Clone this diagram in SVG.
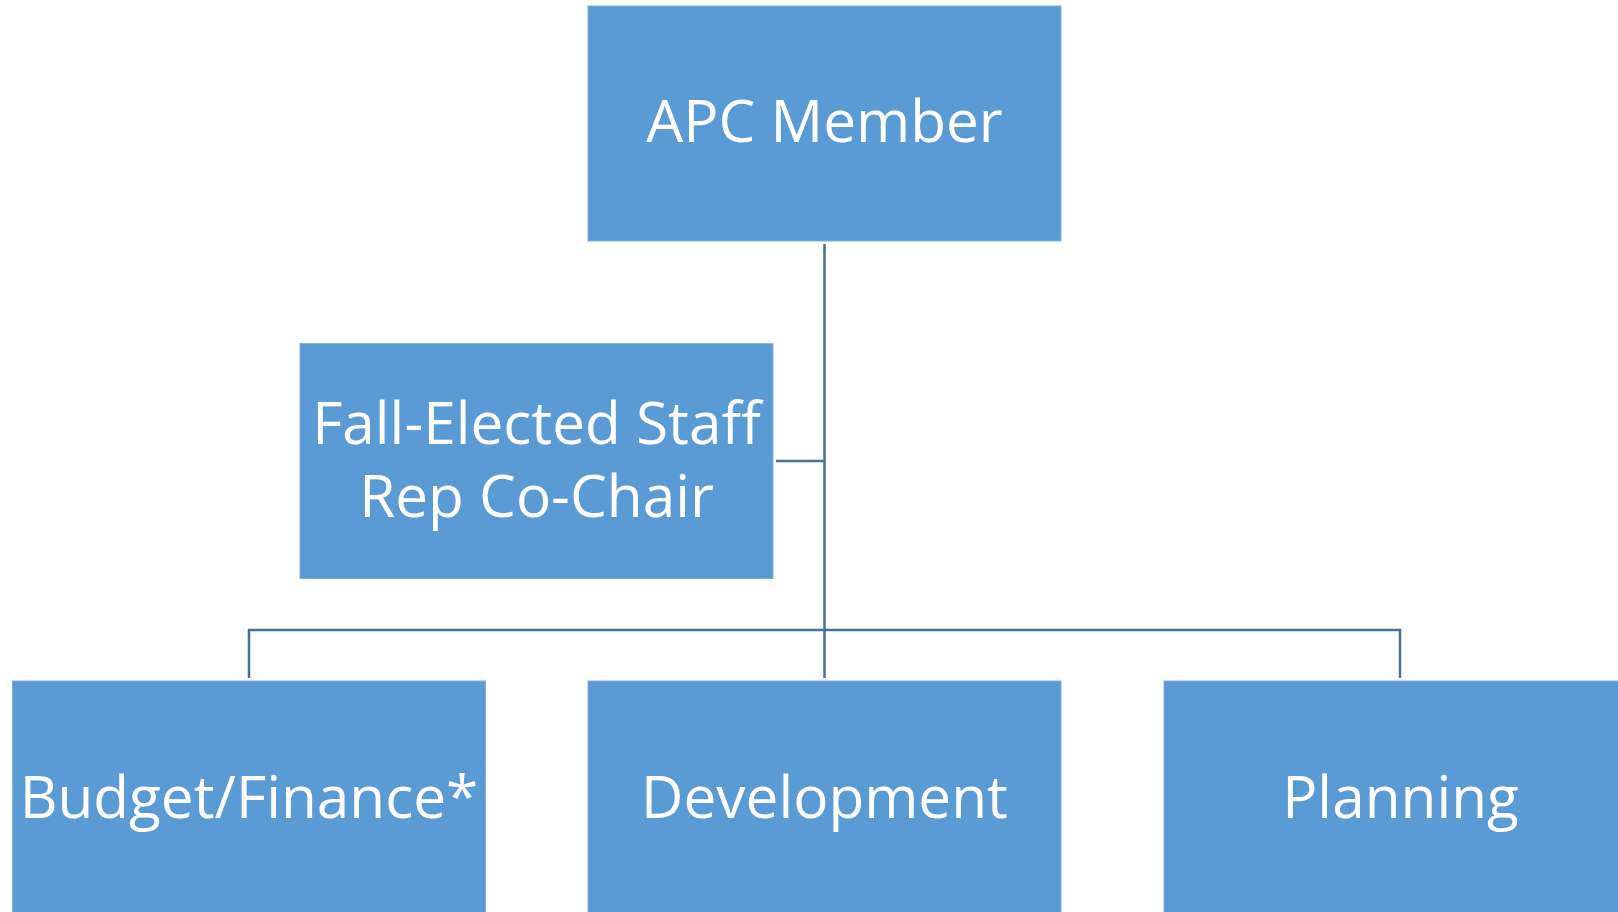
<svg xmlns="http://www.w3.org/2000/svg" width="1618" height="912" viewBox="0 0 1618 912">
<style>
.box{fill:#5B9BD5;stroke:#7EB0E0;stroke-width:1}
.lbl{font-family:"Open Sans","Liberation Sans",sans-serif;font-size:58.5px;fill:#FFFFFF;text-anchor:middle}
.con{fill:none;stroke:#41719C;stroke-width:2.5}
</style>
<rect width="1618" height="912" fill="#FFFFFF"/>
<g id="connectors">
<path class="con" d="M824.5,244 V678"/>
<path class="con" d="M776,461 H824.5"/>
<path class="con" d="M249,678 V630 H1400 V678"/>
</g>
<g id="apc">
<rect class="box" x="588" y="6" width="473" height="235"/>
<text class="lbl" x="824.5" y="142">APC Member</text>
</g>
<g id="fall">
<rect class="box" x="300" y="343.5" width="473" height="235"/>
<text class="lbl" x="536.5" y="444">Fall-Elected Staff</text>
<text class="lbl" x="536.5" y="517">Rep Co-Chair</text>
</g>
<g id="budget">
<rect class="box" x="12.5" y="681" width="473" height="240"/>
<text class="lbl" x="249" y="818">Budget/Finance*</text>
</g>
<g id="development">
<rect class="box" x="588" y="681" width="473" height="240"/>
<text class="lbl" x="824.5" y="818">Development</text>
</g>
<g id="planning">
<rect class="box" x="1164" y="681" width="473" height="240"/>
<text class="lbl" x="1400.5" y="818">Planning</text>
</g>
</svg>
